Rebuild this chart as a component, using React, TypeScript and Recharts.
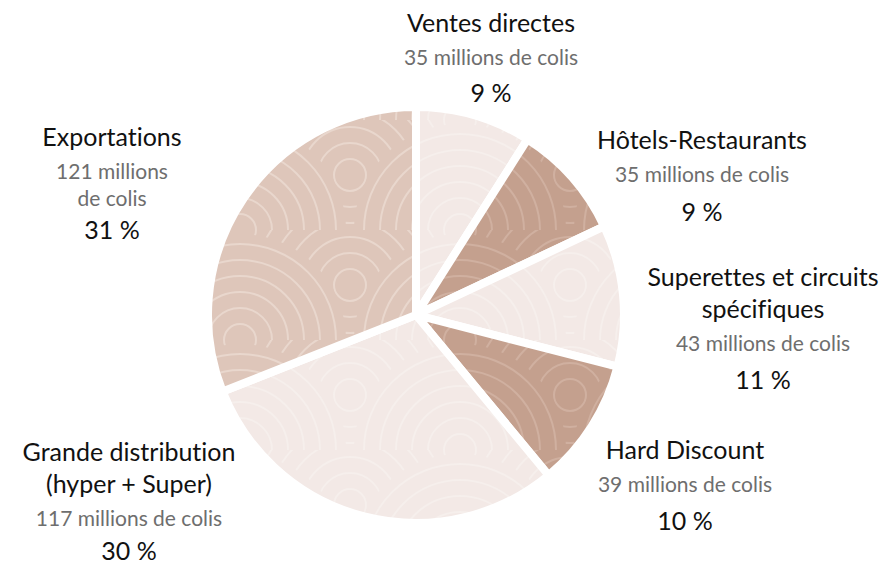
import { PieChart, Pie, Cell } from "recharts";

// ── Data ───────────────────────────────────────────────────────────────────
const categories = [
  "Ventes directes",
  "Hôtels-Restaurants",
  "Superettes et circuits spécifiques",
  "Hard Discount",
  "Grande distribution (hyper + Super)",
  "Exportations",
];
const titleLines = [
  ["Ventes directes"],
  ["Hôtels-Restaurants"],
  ["Superettes et circuits", "spécifiques"],
  ["Hard Discount"],
  ["Grande distribution", "(hyper + Super)"],
  ["Exportations"],
];
const volumeLines = [
  ["35 millions de colis"],
  ["35 millions de colis"],
  ["43 millions de colis"],
  ["39 millions de colis"],
  ["117 millions de colis"],
  ["121 millions", "de colis"],
];
const colis = [35, 35, 43, 39, 117, 121]; // millions de colis
const percents = [9, 9, 11, 10, 30, 31];

// ── Layout / style ─────────────────────────────────────────────────────────
const tones = ["light", "dark", "light", "dark", "light", "mid"];
const labelSpots = [
  { dx: 75, dy: -283, pctGap: 37 },
  { dx: 286, dy: -166, pctGap: 39 },
  { dx: 347, dy: -29, pctGap: 38 },
  { dx: 269, dy: 144, pctGap: 38 },
  { dx: -287, dy: 146, pctGap: 34 },
  { dx: -304, dy: -169, pctGap: 33 },
];
const FONT = "Lato, 'Open Sans', sans-serif";

const tableData = categories.map((name, i) => ({ name, value: percents[i], colis: colis[i] }));

// seigaiha-like swirl pattern
function Swirl({ id, bg, line }: { id: string; bg: string; line: string }) {
  const R = 110;
  const rings = [16, 32, 48, 64, 80, 96];
  const centers = [
    [0, 0], [2 * R, 0], [R, R / 2], [0, R], [2 * R, R],
  ];
  return (
    <pattern id={id} patternUnits="userSpaceOnUse" width={2 * R} height={R} x={20} y={10}>
      <rect width={2 * R} height={R} fill={bg} />
      {centers.map(([x, y], k) => (
        <g key={k}>
          <circle cx={x} cy={y} r={R - 4} fill={bg} />
          {rings.map((r) => (
            <circle key={r} cx={x} cy={y} r={r} fill="none" stroke={line} strokeWidth={2} />
          ))}
        </g>
      ))}
    </pattern>
  );
}

function renderLabel(props: any) {
  const { cx, cy, index } = props;
  const spot = labelSpots[index];
  const x = cx + spot.dx;
  const y = cy + spot.dy;
  const rows: { text: string; kind: string; gap: number }[] = [];
  titleLines[index].forEach((t, i) => rows.push({ text: t, kind: "title", gap: i === 0 ? 0 : 32 }));
  volumeLines[index].forEach((t, i) => rows.push({ text: t, kind: "sub", gap: i === 0 ? 33 : 27 }));
  rows.push({ text: `${percents[index]} %`, kind: "pct", gap: spot.pctGap });
  return (
    <text
      key={`lbl-${index}`}
      x={x}
      y={y}
      textAnchor="middle"
      fontFamily={FONT}
      style={{ fontVariantLigatures: "none" }}
    >
      {rows.map((r, i) => (
        <tspan
          key={i}
          x={x}
          dy={r.gap}
          fontSize={r.kind === "sub" ? 21 : 25}
          fill={r.kind === "sub" ? "#6e6e6e" : "#111111"}
        >
          {r.text}
        </tspan>
      ))}
    </text>
  );
}

export default function App() {
  return (
    <div style={{ position: "absolute", left: 0, top: 0, width: 887, height: 565, background: "#ffffff" }}>
      <PieChart width={887} height={565} margin={{ top: 0, right: 0, bottom: 0, left: 0 }}>
        <defs>
          <Swirl id="swLight" bg="#f3e9e6" line="#f6efec" />
          <Swirl id="swMid" bg="#dec6ba" line="#e9d7cd" />
          <Swirl id="swDark" bg="#c4a08e" line="#d0b0a0" />
        </defs>
        <Pie
          data={tableData}
          dataKey="value"
          nameKey="name"
          cx={416}
          cy={315}
          startAngle={90}
          endAngle={-270}
          outerRadius={208}
          stroke="#ffffff"
          strokeWidth={8}
          labelLine={false}
          label={renderLabel}
          isAnimationActive={false}
        >
          {tableData.map((d, i) => (
            <Cell
              key={d.name}
              fill={tones[i] === "light" ? "url(#swLight)" : tones[i] === "mid" ? "url(#swMid)" : "url(#swDark)"}
            />
          ))}
        </Pie>
      </PieChart>
    </div>
  );
}
